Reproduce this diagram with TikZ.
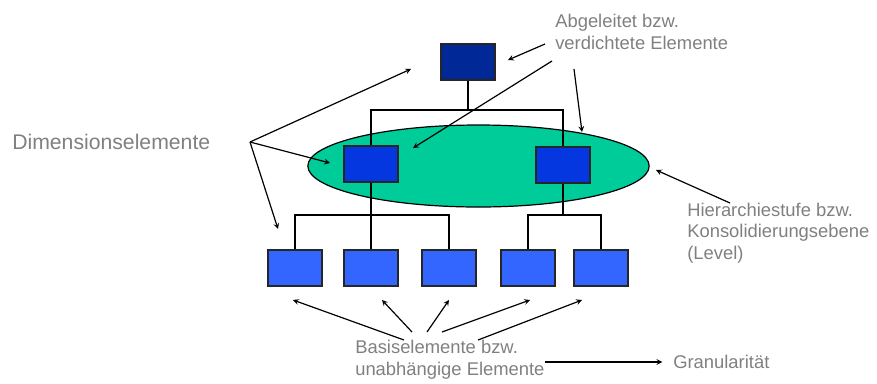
\documentclass[tikz,border=0pt]{standalone}
\usepackage{fontspec}
\setmainfont{Liberation Sans}
\usetikzlibrary{positioning,shapes.geometric}

\definecolor{toplevel}{RGB}{0,40,150}
\definecolor{midlevel}{RGB}{5,55,225}
\definecolor{baselevel}{RGB}{51,102,255}
\definecolor{levelgreen}{RGB}{0,204,153}
\definecolor{labelgray}{RGB}{128,128,128}

\tikzset{
  elem/.style={draw=black!85, line width=1pt, minimum width=40.5pt, minimum height=27pt, inner sep=0pt},
  lbl/.style={text=labelgray, anchor=west, align=left, inner sep=0pt, font=\fontsize{13.8}{16.2}\selectfont},
  ptr/.style={->, line width=0.9pt},
}

\begin{document}
\begin{tikzpicture}[x=0.75pt, y=-0.75pt, >=stealth]
    \useasboundingbox (0,0) rectangle (877,383);

    % level ellipse
    \node[ellipse, draw, fill=levelgreen, line width=0.9pt, minimum width=256pt, minimum height=61.5pt] (lvl) at (478.5,166) {};

    \coordinate (bar) at (0,110);
    \coordinate (bus) at (0,215);

    % boxes
    \node[elem, fill=toplevel] (top) at (468,62) {};
    \node[elem, fill=midlevel] (midL) at (371,164) {};
    \node[elem, fill=midlevel] (midR) at (563,165) {};
    \node[elem, fill=baselevel] (b1) at (295,268) {};
    \node[elem, fill=baselevel] (b2) at (371,268) {};
    \node[elem, fill=baselevel] (b3) at (449,268) {};
    \node[elem, fill=baselevel] (b4) at (528,268) {};
    \node[elem, fill=baselevel] (b5) at (601,268) {};

    % tree lines
    \draw[line width=1pt] (top.south) -- (top |- bar);
    \draw[line width=1pt] (midL.north) -- (midL |- bar) -| (midR.north);
    \draw[line width=1pt] (midL.south) -- (b2.north);
    \draw[line width=1pt] (b1.north) -- (b1 |- bus) -| (b3.north);
    \draw[line width=1pt] (midR.south) -- (midR |- bus);
    \draw[line width=1pt] (b4.north) -- (b4 |- bus) -| (b5.north);

    % labels
    \node[lbl, font=\fontsize{15.9}{19}\selectfont] (dim) at (12,142) {Dimensionselemente};
    \node[lbl] (abg) at (555,32) {Abgeleitet bzw.\\verdichtete Elemente};
    \node[lbl] (hier) at (687,233) {Hierarchiestufe bzw.\\Konsolidierungsebene\\(Level)};
    \node[lbl] (basis) at (355,360) {Basiselemente bzw.\\unabh\"angige Elemente};
    \node[lbl] (gran) at (673,362) {Granularit\"at};

    % arrows from Dimensionselemente
    \coordinate (dimfan) at (250,142);
    \coordinate (dimA) at (411,69);
    \coordinate (dimB) at (330,163);
    \coordinate (dimC) at (278,229);
    \draw[ptr] (dimfan) -- (dimA);
    \draw[ptr] (dimfan) -- (dimB);
    \draw[ptr] (dimfan) -- (dimC);

    % arrows from Abgeleitet
    \coordinate (abgA) at (545,44);
    \coordinate (abgB) at (552,61);
    \coordinate (abgC) at (574,69);
    \draw[ptr] (abgA) -- (508,60);
    \draw[ptr] (abgB) -- (413,148);
    \draw[ptr] (abgC) -- (582,132);

    % arrow from Hierarchiestufe
    \coordinate (hierA) at (730,203);
    \draw[ptr] (hierA) -- (656,170);

    % arrows from Basiselemente
    \coordinate (basA) at (404,340);
    \coordinate (basB) at (412,332);
    \coordinate (basC) at (427,332);
    \coordinate (basD) at (442,332);
    \coordinate (basE) at (478,340);
    \draw[ptr] (basA) -- (293,300);
    \draw[ptr] (basB) -- (382,300);
    \draw[ptr] (basC) -- (449,300);
    \draw[ptr] (basD) -- (530,300);
    \draw[ptr] (basE) -- (582,300);

    % granularity
    \coordinate (granA) at (545,362);
    \draw[ptr] (granA) -- ([xshift=-8pt]gran.west);
\end{tikzpicture}
\end{document}
